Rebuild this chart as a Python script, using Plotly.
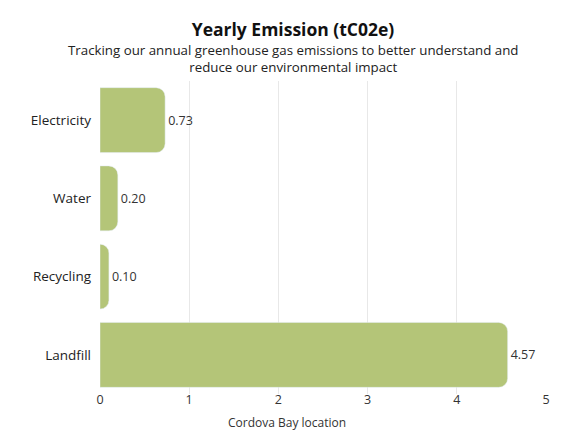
import plotly.graph_objects as go

categories = ["Electricity", "Water", "Recycling", "Landfill"]
emissions = [0.73, 0.20, 0.10, 4.57]
value_labels = ["0.73", "0.20", "0.10", "4.57"]

bar_color = "#b4c578"

fig = go.Figure()
fig.add_trace(
    go.Bar(
        y=categories,
        x=emissions,
        orientation="h",
        marker=dict(color=bar_color, cornerradius=9),
        text=value_labels,
        textposition="outside",
        textfont=dict(size=12.5, color="#333333"),
        cliponaxis=False,
    )
)

# page body adds 8px offset; plot area 92..538 wide, 73..386 tall in figure px
fig.update_layout(
    width=586,
    height=440,
    paper_bgcolor="white",
    plot_bgcolor="white",
    font=dict(family="Open Sans", color="#333333"),
    margin=dict(l=92, r=48, t=73, b=54, autoexpand=False),
    bargap=0.17,
    showlegend=False,
    title=dict(
        text="<b>Yearly Emission (tC02e)</b>",
        x=285 / 586,
        xanchor="center",
        y=1 - 22 / 440,
        yanchor="middle",
        font=dict(size=17.5, color="#111111"),
    ),
    annotations=[
        dict(
            text="Tracking our annual greenhouse gas emissions to better understand and<br>reduce our environmental impact",
            xref="paper",
            yref="paper",
            x=(285 - 92) / 446,
            y=(386 - 51) / 313,
            xanchor="center",
            yanchor="middle",
            showarrow=False,
            font=dict(size=13.3, color="#222222"),
        ),
        dict(
            text="Cordova Bay location",
            xref="paper",
            yref="paper",
            x=(279 - 92) / 446,
            y=-28 / 313,
            xanchor="center",
            yanchor="middle",
            showarrow=False,
            font=dict(size=12, color="#333333"),
        ),
    ],
)

fig.update_xaxes(
    range=[0, 5],
    dtick=1,
    showgrid=True,
    gridcolor="#e8e8e8",
    zeroline=False,
    automargin=False,
    ticklabelstandoff=-4,
    tickfont=dict(size=12.5, color="#333333"),
)
fig.update_yaxes(
    autorange="reversed",
    showgrid=False,
    ticks="",
    automargin=False,
    ticklabelstandoff=8,
    tickfont=dict(size=13.5, color="#222222"),
)

fig.write_html("out.html")
